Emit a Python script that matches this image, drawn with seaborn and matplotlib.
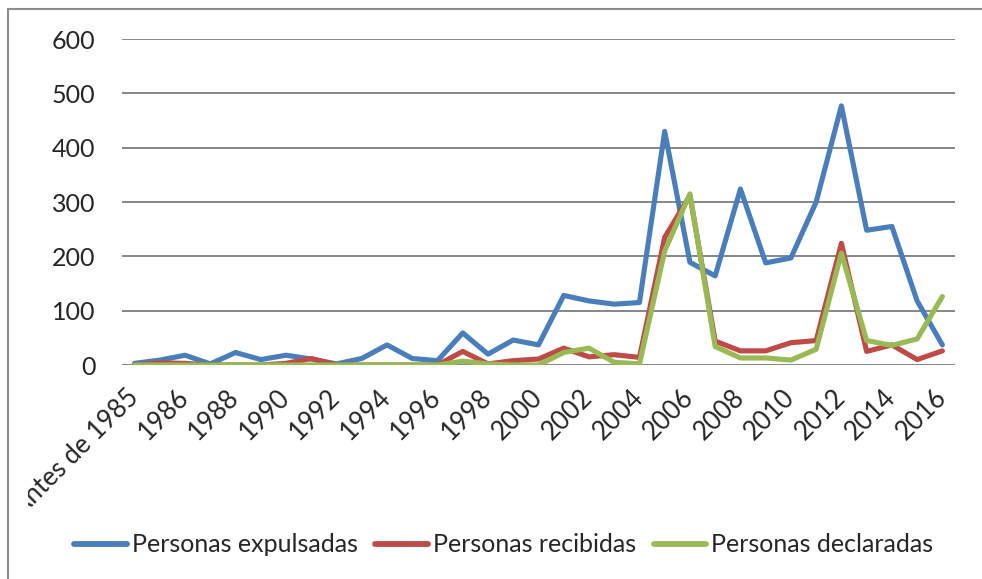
import pandas as pd
import matplotlib.pyplot as plt
import matplotlib.transforms as mtransforms
from matplotlib.lines import Line2D
import seaborn as sns

# Datos
categorias = ["Antes de 1985"] + [str(a) for a in range(1985, 2017)]
expulsadas = [3, 9, 18, 2, 23, 10, 18, 11, 2, 12,
              37, 12, 8, 59, 20, 46, 37, 128, 118, 112,
              115, 430, 189, 164, 324, 188, 197, 300, 477, 248,
              255, 118, 37]
recibidas = [0, 4, 3, 0, 0, 0, 3, 12, 0, 0,
             0, 0, 0, 25, 2, 8, 11, 31, 15, 19,
             14, 235, 312, 44, 26, 26, 41, 45, 224, 25,
             37, 10, 26]
declaradas = [0, 0, 0, 0, 0, 0, 0, 0, 0, 0,
              0, 0, 0, 7, 2, 0, 0, 23, 31, 5,
              2, 210, 315, 34, 13, 13, 9, 29, 206, 45,
              36, 48, 126]
series = ["Personas expulsadas", "Personas recibidas", "Personas declaradas"]
colores = ["#4A7EBB", "#BE4B48", "#98B954"]

idx = list(range(len(categorias)))
df = pd.DataFrame({
    "x": idx * 3,
    "valor": expulsadas + recibidas + declaradas,
    "serie": [series[0]] * len(idx) + [series[1]] * len(idx) + [series[2]] * len(idx),
})

sns.set_style("white")
plt.rcParams["font.family"] = ["Lato", "DejaVu Sans"]

fig = plt.figure(figsize=(9.82, 5.79), dpi=100)
ax = fig.add_axes([0.1242, 0.3696, 0.8483, 0.563])

sns.lineplot(data=df, x="x", y="valor", hue="serie", hue_order=series,
             palette=colores, linewidth=3.7, ax=ax, legend=False)

ax.set_xlim(-0.5, len(categorias) - 0.5)
ax.set_ylim(0, 600)
ax.set_yticks(range(0, 601, 100))
ax.yaxis.grid(True, color="#868686", linewidth=1.4)
ax.set_axisbelow(True)
ax.tick_params(axis="y", labelsize=18, pad=19, length=0)
ax.set_xticks(idx[::2])
ax.set_xticklabels(categorias[::2], rotation=45, ha="right",
                   rotation_mode="anchor", fontsize=18.5)
ax.tick_params(axis="x", length=0, pad=14)

# etiquetas del eje x: pequeño desplazamiento y recorte a la izquierda como en el original
desplaza = mtransforms.ScaledTranslation(-9 / 100, 0, fig.dpi_scale_trans)
recorte = mtransforms.TransformedBbox(mtransforms.Bbox([[28 / 982, 0], [1, 1]]), fig.transFigure)
for lab in ax.get_xticklabels():
    lab.set_transform(lab.get_transform() + desplaza)
    lab.set_clip_box(recorte)
    lab.set_clip_on(True)
ax.set_xlabel("")
ax.set_ylabel("")
for s in ax.spines.values():
    s.set_visible(False)

handles = [Line2D([], [], color=c, linewidth=4.2, solid_capstyle="round") for c in colores]
fig.legend(handles, series, loc="center", bbox_to_anchor=(0.513, 0.059), ncol=3,
           frameon=False, fontsize=18, handlelength=2.1, handletextpad=0.2,
           columnspacing=0.7)

# marco del gráfico
fig.add_artist(Line2D([8 / 982, 8 / 982], [0, 1 - 9 / 579], color="#8c8c8c", linewidth=1.5))
fig.add_artist(Line2D([8 / 982, 1], [1 - 9 / 579, 1 - 9 / 579], color="#8c8c8c", linewidth=1.5))

plt.savefig("out.png", dpi=100)
plt.close()
